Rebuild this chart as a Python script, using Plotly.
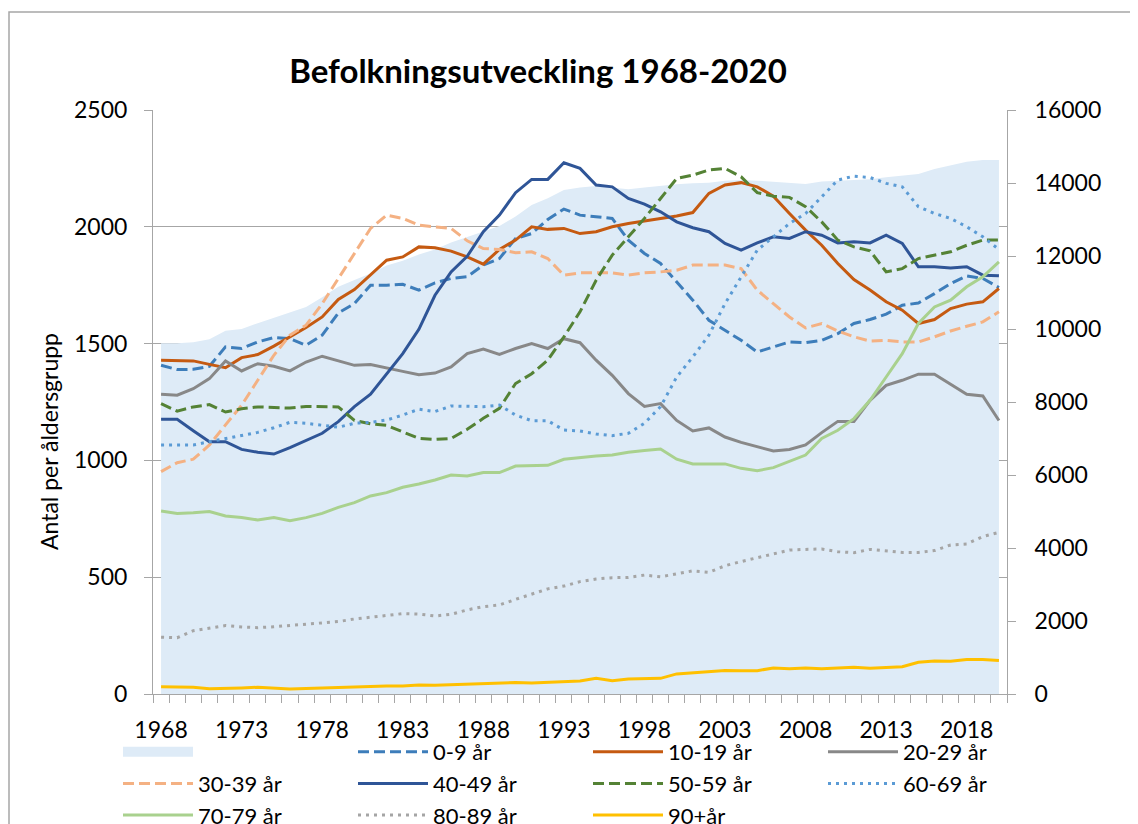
import plotly.graph_objects as go

years = list(range(1968, 2021))

total = [9610, 9610, 9640, 9720, 9955, 10000, 10160, 10310, 10450, 10600, 10870, 11160, 11340,
         11520, 11740, 11870, 12040, 12180, 12370, 12530, 12670, 12820, 13080, 13400, 13580,
         13810, 13880, 13920, 13880, 13830, 13880, 13930, 13965, 13990, 14010, 14065, 14085,
         14065, 14030, 14010, 13975, 14040, 14055, 14065, 14100, 14155, 14210, 14250, 14385,
         14495, 14585, 14630, 14630]

a0_9 = [1407, 1389, 1390, 1403, 1486, 1479, 1507, 1526, 1521, 1493, 1536, 1631, 1671, 1750, 1750,
        1754, 1729, 1760, 1779, 1786, 1836, 1864, 1950, 1971, 2031,
        2076, 2050, 2043, 2036, 1943, 1886, 1843, 1764, 1686, 1600, 1557, 1514, 1464, 1486, 1507,
        1504, 1514, 1543, 1586, 1603, 1626, 1664, 1674, 1714, 1757, 1790, 1779, 1740]
a10_19 = [1429, 1429, 1426, 1411, 1397, 1440, 1453, 1489, 1529, 1569, 1614, 1689, 1731, 1793, 1857,
          1871, 1914, 1910, 1896, 1871, 1840, 1903, 1943, 2000, 1989,
          1993, 1971, 1979, 2000, 2014, 2024, 2036, 2046, 2061, 2143, 2179, 2189, 2171, 2131, 2057,
          1986, 1921, 1843, 1774, 1729, 1679, 1643, 1586, 1603, 1650, 1669, 1679, 1736]
a20_29 = [1283, 1279, 1307, 1350, 1426, 1383, 1414, 1403, 1383, 1421, 1446, 1426, 1407, 1410, 1397,
          1381, 1367, 1374, 1400, 1457, 1477, 1454, 1479, 1500, 1479,
          1521, 1504, 1429, 1364, 1286, 1231, 1243, 1171, 1126, 1139, 1100, 1077, 1059, 1040, 1047,
          1066, 1119, 1167, 1167, 1257, 1321, 1343, 1369, 1369, 1326, 1283, 1276, 1171]
a30_39 = [952, 990, 1005, 1066, 1152, 1236, 1343, 1450, 1536, 1579, 1671, 1779, 1886, 1993, 2050,
          2036, 2007, 2000, 1993, 1940, 1907, 1903, 1889, 1893, 1864,
          1793, 1803, 1803, 1803, 1793, 1803, 1807, 1814, 1836, 1836, 1836, 1821, 1729, 1671, 1614,
          1567, 1586, 1554, 1529, 1511, 1514, 1507, 1507, 1529, 1554, 1574, 1593, 1636]
a40_49 = [1176, 1176, 1127, 1080, 1080, 1047, 1035, 1027, 1055, 1085, 1116, 1166, 1230, 1283, 1371,
          1457, 1561, 1707, 1807, 1874, 1979, 2050, 2146, 2203, 2203,
          2274, 2250, 2179, 2171, 2121, 2097, 2064, 2021, 1996, 1979, 1929, 1900, 1931, 1957, 1950,
          1979, 1964, 1931, 1936, 1931, 1964, 1929, 1829, 1829, 1824, 1829, 1793, 1790]
a50_59 = [1243, 1211, 1229, 1239, 1207, 1221, 1229, 1226, 1224, 1231, 1231, 1229, 1171, 1157, 1150,
          1123, 1094, 1090, 1094, 1133, 1180, 1223, 1329, 1371, 1429,
          1529, 1636, 1771, 1879, 1957, 2036, 2121, 2207, 2221, 2243, 2250, 2214, 2146, 2131, 2126,
          2086, 2021, 1943, 1914, 1897, 1807, 1821, 1864, 1879, 1893, 1921, 1943, 1943]
a60_69 = [1066, 1066, 1066, 1080, 1094, 1106, 1120, 1140, 1163, 1159, 1149, 1142, 1159, 1163, 1173,
          1194, 1219, 1209, 1233, 1233, 1230, 1237, 1194, 1170, 1170,
          1130, 1126, 1113, 1106, 1116, 1159, 1230, 1357, 1443, 1536, 1671, 1786, 1900, 1957, 2014,
          2057, 2129, 2200, 2217, 2211, 2186, 2171, 2086, 2057, 2036, 2000, 1957, 1903]
a70_79 = [783, 773, 776, 781, 762, 756, 745, 755, 742, 755, 773, 799, 819, 848, 862,
          885, 899, 916, 937, 933, 948, 948, 976, 976, 979,
          1005, 1013, 1019, 1023, 1035, 1042, 1049, 1005, 985, 985, 985, 966, 956, 969, 995,
          1023, 1094, 1129, 1179, 1257, 1357, 1457, 1586, 1657, 1686, 1743, 1786, 1850]
a80_89 = [243, 241, 271, 281, 293, 287, 284, 288, 294, 298, 305, 310, 321, 328, 335,
          344, 342, 334, 341, 360, 374, 381, 405, 428, 450,
          462, 481, 492, 498, 499, 509, 502, 514, 527, 521, 549, 567, 584, 599, 616,
          619, 621, 609, 605, 619, 614, 606, 606, 614, 638, 642, 674, 692]
a90 = [31, 31, 29, 23, 23, 26, 29, 24, 21, 24, 26, 30, 31, 33, 34,
       34, 39, 37, 40, 43, 44, 47, 49, 47, 50,
       51, 56, 67, 57, 64, 66, 67, 86, 91, 93, 101, 100, 100, 111, 108,
       111, 108, 111, 114, 110, 113, 117, 136, 141, 140, 148, 148, 143]

series_names = ["0-9 år", "10-19 år", "20-29 år", "30-39 år", "40-49 år",
                "50-59 år", "60-69 år", "70-79 år", "80-89 år", "90+år"]
series_values = [a0_9, a10_19, a20_29, a30_39, a40_49, a50_59, a60_69, a70_79, a80_89, a90]
left_ticks = [0, 500, 1000, 1500, 2000, 2500]
right_ticks = [0, 2000, 4000, 6000, 8000, 10000, 12000, 14000, 16000]
x_label_years = list(range(1968, 2019, 5))

styles = [
    dict(color="#3D7DBA", dash="11px,5px", width=3),
    dict(color="#C55A11", dash="solid", width=3),
    dict(color="#888888", dash="solid", width=3),
    dict(color="#F4B183", dash="11px,5px", width=3),
    dict(color="#2F5597", dash="solid", width=3),
    dict(color="#548235", dash="11px,5px", width=3),
    dict(color="#5B9BD5", dash="3px,5px", width=3),
    dict(color="#A9D18E", dash="solid", width=3),
    dict(color="#A5A5A5", dash="3px,5px", width=3),
    dict(color="#FFC000", dash="solid", width=3),
]

FONT = "Lato, 'Open Sans', Arial, sans-serif"
AXC = "#A6A6A6"

# the page body adds an 8 px offset; targets below are screen pixels
OFF = 8
PL, PR, PT, PB = 153 - OFF, 1007 - OFF, 110 - OFF, 694 - OFF
PW, PH = PR - PL, PB - PT


def px(xs):
    return (xs - OFF - PL) / PW


def py(ys):
    return (PB - (ys - OFF)) / PH


fig = go.Figure()

# total population as area on the right axis (primary y so it is drawn below the lines)
fig.add_trace(go.Scatter(x=years, y=total, mode="lines", fill="tozeroy",
                         fillcolor="#DEEBF7", line=dict(width=0, color="#DEEBF7"),
                         xaxis="x", yaxis="y", showlegend=False, hoverinfo="x+y", name="Totalt"))
# legend swatch for the area
fig.add_trace(go.Scatter(x=[None], y=[None], mode="lines", name=" ",
                         line=dict(color="#DEEBF7", width=15), xaxis="x", yaxis="y"))

for name, vals, st in zip(series_names, series_values, styles):
    fig.add_trace(go.Scatter(x=years, y=vals, mode="lines", name=name,
                             line=dict(color=st["color"], dash=st["dash"], width=st["width"]),
                             xaxis="x", yaxis="y2"))

fig.update_layout(
    width=1138, height=824,
    margin=dict(l=PL, r=1138 - PR, t=PT, b=824 - PB, autoexpand=False),
    paper_bgcolor="white", plot_bgcolor="white",
    font=dict(family=FONT, size=22, color="#000000"),
    title=dict(text="<b>Befolkningsutveckling 1968-2020</b>", xref="paper", x=px(538),
               xanchor="center", yref="container", y=1 - (71 - OFF) / 824, yanchor="middle",
               font=dict(family=FONT, size=33, color="#000000")),
    xaxis=dict(range=[1967.5, 2020.5], tickvals=x_label_years, ticks="",
               showline=True, linecolor=AXC, linewidth=1, showgrid=False, zeroline=False,
               ticklabelstandoff=15, automargin=False,
               minor=dict(tickvals=[y - 0.5 for y in years] + [2020.5], ticks="outside",
                          ticklen=8, tickcolor=AXC, showgrid=False),
               tickfont=dict(size=23)),
    yaxis=dict(range=[0, 16000], tickvals=right_ticks, tickformat="d", side="right",
               showgrid=False, automargin=False,
               zeroline=False, showline=True, linecolor=AXC, linewidth=1,
               ticks="outside", ticklen=8, tickcolor=AXC, ticklabelstandoff=14,
               tickfont=dict(size=23)),
    yaxis2=dict(range=[0, 2500], tickvals=left_ticks, tickformat="d", side="left",
                overlaying="y", automargin=False,
                showgrid=True, gridcolor=AXC, gridwidth=1, zeroline=False,
                showline=True, linecolor=AXC, linewidth=1,
                ticks="outside", ticklen=8, tickcolor=AXC, ticklabelstandoff=12,
                tickfont=dict(size=23)),
    legend=dict(orientation="h", x=px(118), xanchor="left",
                y=py(731), yanchor="top",
                entrywidth=150, entrywidthmode="pixels", itemwidth=70,
                font=dict(family=FONT, size=22), bgcolor="rgba(0,0,0,0)",
                traceorder="normal"),
    annotations=[dict(text="Antal per åldersgrupp", textangle=-90, xref="paper", yref="paper",
                      x=px(49), y=py(442), xanchor="center",
                      yanchor="middle", showarrow=False,
                      font=dict(family=FONT, size=23, color="#000000"))],
    shapes=[dict(type="rect", xref="paper", yref="paper",
                 x0=px(9), x1=px(1300), y0=py(1000), y1=py(12),
                 line=dict(color="#A6A6A6", width=1.5), fillcolor="rgba(0,0,0,0)", layer="below")],
    hovermode="closest",
)

fig.write_html("out.html")
